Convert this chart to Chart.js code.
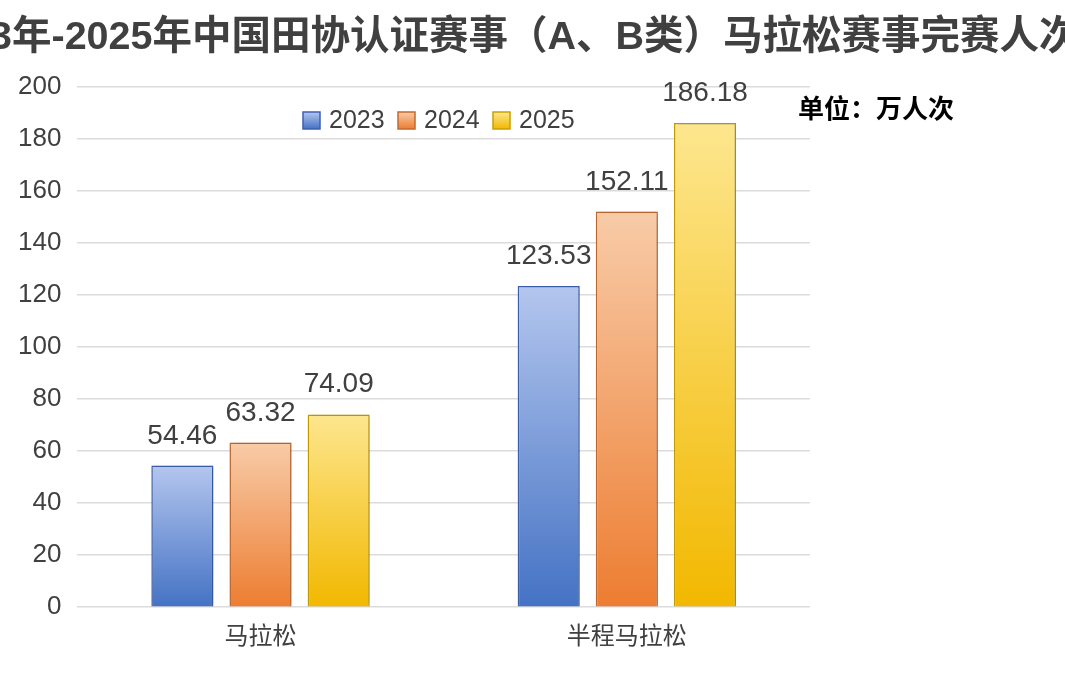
<!DOCTYPE html>
<html>
<head>
<meta charset="utf-8">
<script src="https://cdn.jsdelivr.net/npm/chart.js@4.4.1/dist/chart.umd.min.js"></script>
<style>
  html, body { margin: 0; padding: 0; background: #fff; }
  #wrap { width: 1065px; height: 676px; }
</style>
</head>
<body>
<div id="wrap"><canvas id="bar-chart"></canvas></div>
<script>
var categories = ["马拉松", "半程马拉松"];
var years = ["2023", "2024", "2025"];
var data2023 = [54.46, 123.53];
var data2024 = [63.32, 152.11];
var data2025 = [74.09, 186.18];

var titleText = "2023年-2025年中国田协认证赛事（A、B类）马拉松赛事完赛人次";
var unitText = "单位：万人次";
var FONT = "'Liberation Sans', 'Noto Sans CJK SC', sans-serif";

// top colour / bottom colour / border
var palette = [
    ["#b4c6ee", "#4472c4", "#3d62b0"],
    ["#f8cba8", "#ed7d31", "#c46a2e"],
    ["#fde68e", "#f2b800", "#c9a000"]
];

function barFill(top, bottom) {
    return function (ctx) {
        var chart = ctx.chart;
        if (!chart.chartArea || ctx.type !== 'data') return bottom;
        var y = chart.scales.y;
        var y0 = y.getPixelForValue(ctx.parsed.y);
        var y1 = y.getPixelForValue(0);
        var g = chart.ctx.createLinearGradient(0, y0, 0, y1);
        g.addColorStop(0, top);
        g.addColorStop(1, bottom);
        return g;
    };
}

var series = [data2023, data2024, data2025];
var datasets = series.map(function (d, i) {
    return {
        label: years[i],
        data: d,
        backgroundColor: barFill(palette[i][0], palette[i][1]),
        borderColor: palette[i][2],
        borderWidth: 1.5,
        barPercentage: 0.795,
        categoryPercentage: 0.64
    };
});

var extras = {
    id: 'extras',
    beforeDatasetsDraw: function (chart) {
        var c = chart.ctx;
        c.save();
        c.shadowColor = 'rgba(0,0,0,0.18)';
        c.shadowBlur = 6;
        c.shadowOffsetX = 2;
        c.shadowOffsetY = 0;
    },
    afterDatasetsDraw: function (chart) {
        var c = chart.ctx;
        c.restore();
        // value labels
        c.save();
        c.font = "28px " + FONT;
        c.fillStyle = "#404040";
        c.textAlign = "center";
        c.textBaseline = "alphabetic";
        chart.data.datasets.forEach(function (ds, i) {
            chart.getDatasetMeta(i).data.forEach(function (bar, j) {
                c.fillText(ds.data[j].toFixed(2), bar.x, bar.y - 22);
            });
        });
        c.restore();
    },
    afterDraw: function (chart) {
        var c = chart.ctx;
        c.save();
        // title, clipped at both sides as in the source image
        c.font = "bold 39.5px " + FONT;
        c.fillStyle = "#404040";
        c.textBaseline = "middle";
        c.textAlign = "left";
        var startX = 12 - c.measureText("2023").width;
        c.fillText(titleText, startX, 38);

        // unit
        c.font = "bold 26px 'Noto Sans CJK SC', sans-serif";
        c.fillStyle = "#000";
        c.fillText(unitText, 798, 108);

        // legend
        var lx = [303, 398, 493];
        c.font = "25px " + FONT;
        years.forEach(function (y, i) {
            var g = c.createLinearGradient(0, 112, 0, 129);
            g.addColorStop(0, palette[i][0]);
            g.addColorStop(1, palette[i][1]);
            c.fillStyle = g;
            c.fillRect(lx[i], 112, 17, 17);
            c.strokeStyle = palette[i][2];
            c.lineWidth = 1.5;
            c.strokeRect(lx[i], 112, 17, 17);
            c.fillStyle = "#404040";
            c.fillText(y, lx[i] + 26, 121);
        });
        c.restore();
    }
};

new Chart(document.getElementById("bar-chart"), {
    type: 'bar',
    data: {
        labels: categories,
        datasets: datasets
    },
    options: {
        maintainAspectRatio: false,
        responsive: true,
        animation: false,
        layout: {padding: {top: 87, left: 2, right: 255, bottom: 8}},
        plugins: {
            legend: {display: false},
            title: {display: false},
            tooltip: {enabled: false}
        },
        scales: {
            x: {
                grid: {display: false, drawTicks: false},
                border: {display: false},
                ticks: {color: "#404040", padding: 16, font: {size: 24, family: FONT}}
            },
            y: {
                min: 0,
                max: 200,
                grid: {color: "#dcdcdc", lineWidth: 1.5, drawTicks: false},
                border: {display: false},
                ticks: {stepSize: 20, color: "#404040", padding: 16, font: {size: 26, family: FONT}}
            }
        }
    },
    plugins: [extras]
});
</script>
</body>
</html>
